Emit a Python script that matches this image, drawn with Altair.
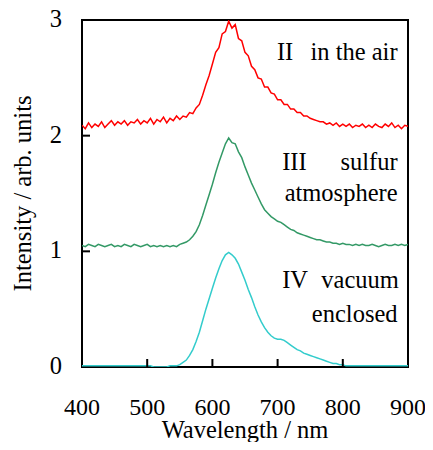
import altair as alt
import pandas as pd

# ---------------- data ----------------
wavelength = list(range(400, 905, 5))

series_II = [
    2.09, 2.06, 2.11, 2.07, 2.10, 2.08, 2.12, 2.07, 2.10, 2.13, 2.09,
    2.12, 2.10, 2.13, 2.09, 2.12, 2.11, 2.14, 2.10, 2.13, 2.11,
    2.15, 2.10, 2.14, 2.12, 2.16, 2.11, 2.15, 2.13, 2.17, 2.14,
    2.17, 2.16, 2.20, 2.19, 2.24, 2.27, 2.35, 2.44, 2.52, 2.62,
    2.72, 2.76, 2.88, 2.90, 2.99, 2.93, 2.96, 2.84, 2.82, 2.72,
    2.69, 2.60, 2.57, 2.50, 2.49, 2.42, 2.42, 2.37, 2.36, 2.31,
    2.31, 2.27, 2.27, 2.23, 2.23, 2.20, 2.20, 2.17, 2.17, 2.15,
    2.14, 2.13, 2.12, 2.12, 2.10, 2.11, 2.09, 2.11, 2.08, 2.10,
    2.08, 2.10, 2.07, 2.09, 2.08, 2.10, 2.07, 2.09, 2.07, 2.10,
    2.08, 2.07, 2.10, 2.08, 2.11, 2.07, 2.09, 2.06, 2.09, 2.08,
]

series_III = [
    1.05, 1.04, 1.06, 1.05, 1.04, 1.06, 1.05, 1.04, 1.05, 1.06, 1.04,
    1.05, 1.04, 1.06, 1.05, 1.04, 1.06, 1.05, 1.04, 1.05, 1.06,
    1.04, 1.05, 1.04, 1.05, 1.04, 1.05, 1.04, 1.05, 1.04, 1.06,
    1.07, 1.08, 1.10, 1.13, 1.17, 1.23, 1.31, 1.40, 1.49, 1.58,
    1.68, 1.77, 1.85, 1.93, 1.98, 1.94, 1.93, 1.86, 1.81, 1.73,
    1.66, 1.59, 1.53, 1.47, 1.41, 1.36, 1.33, 1.30, 1.28, 1.26,
    1.25, 1.23, 1.21, 1.19, 1.18, 1.16, 1.15, 1.14, 1.13, 1.12,
    1.11, 1.10, 1.10, 1.09, 1.08, 1.08, 1.07, 1.07, 1.06, 1.07,
    1.06, 1.06, 1.05, 1.06, 1.05, 1.06, 1.05, 1.05, 1.06, 1.05,
    1.04, 1.05, 1.06, 1.05, 1.05, 1.06, 1.05, 1.06, 1.05, 1.06,
]

series_IV = [
    0.01, 0.01, 0.01, 0.01, 0.01, 0.01, 0.01, 0.01, 0.01, 0.01, 0.01,
    0.01, 0.01, 0.01, 0.01, 0.01, 0.01, 0.01, 0.01, 0.01, 0.01,
    0.01, 0.00, 0.00, 0.00, 0.00, 0.00, 0.01, 0.01, 0.01, 0.02,
    0.04, 0.06, 0.10, 0.15, 0.22, 0.30, 0.40, 0.50, 0.59, 0.68,
    0.77, 0.85, 0.92, 0.97, 0.99, 0.97, 0.94, 0.89, 0.82, 0.75,
    0.67, 0.60, 0.52, 0.45, 0.39, 0.34, 0.30, 0.27, 0.25, 0.24,
    0.24, 0.23, 0.21, 0.19, 0.17, 0.15, 0.14, 0.12, 0.11, 0.10,
    0.09, 0.08, 0.07, 0.06, 0.05, 0.04, 0.03, 0.03, 0.02, 0.02,
    0.01, 0.01, 0.01, 0.01, 0.01, 0.01, 0.01, 0.01, 0.01, 0.01,
    0.01, 0.01, 0.01, 0.01, 0.01, 0.01, 0.01, 0.01, 0.01, 0.01,
]

series_names = ["II", "III", "IV"]
series_colors = ["#ff0000", "#339966", "#33cccc"]

x_tick_values = [400, 500, 600, 700, 800, 900]
y_tick_values = [0, 1, 2, 3]
inner_x_ticks = [500, 600, 700, 800]
inner_y_ticks = [1, 2]

# annotation text
left_labels = ["II", "III", "IV"]
left_x = [699, 707, 707]
left_y = [2.653, 1.703, 0.683]

right_labels = ["in the air", "sulfur", "atmosphere", "vacuum", "enclosed"]
right_x = [884, 884, 884, 886, 884]
right_y = [2.653, 1.703, 1.435, 0.683, 0.392]

FONT = "Liberation Serif"
FS = 24.5
XT = "Wavelength / nm"
YT = "Intensity / arb. units"
W, H = 326, 347

# ---------------- build tables ----------------
rows = []
for name, vals in zip(series_names, [series_II, series_III, series_IV]):
    for w, v in zip(wavelength, vals):
        rows.append({"wavelength": w, "intensity": v, "series": name})
df = pd.DataFrame(rows)

xscale = alt.Scale(domain=[400, 900], nice=False, zero=False)
yscale = alt.Scale(domain=[0, 3], nice=False)

lines = alt.Chart(df).mark_line(strokeWidth=1.5, clip=True).encode(
    x=alt.X("wavelength:Q", scale=xscale, axis=None),
    y=alt.Y("intensity:Q", scale=yscale, axis=None),
    color=alt.Color("series:N", scale=alt.Scale(domain=series_names, range=series_colors),
                    legend=None),
    detail="series:N",
)

# inward tick marks
xt = alt.Chart(pd.DataFrame({"tx": inner_x_ticks})).mark_rule(
    color="black", strokeWidth=2).encode(
    x=alt.X("tx:Q", scale=xscale, axis=None),
    y=alt.value(H), y2=alt.value(H - 8))

yt = alt.Chart(pd.DataFrame({"ty": inner_y_ticks})).mark_rule(
    color="black", strokeWidth=2).encode(
    y=alt.Y("ty:Q", scale=yscale, axis=None),
    x=alt.value(0), x2=alt.value(8))

# tick labels, positioned through the scales
xlab = alt.Chart(pd.DataFrame({"v": x_tick_values,
                               "s": [str(v) for v in x_tick_values]})).mark_text(
    align="center", baseline="alphabetic", font=FONT, fontSize=24, color="black").encode(
    x=alt.X("v:Q", scale=xscale, axis=None),
    y=alt.value(H + 48),
    text="s:N")

ylab = alt.Chart(pd.DataFrame({"v": y_tick_values,
                               "s": [str(v) for v in y_tick_values]})).mark_text(
    align="right", baseline="middle", font=FONT, fontSize=FS, color="black").encode(
    y=alt.Y("v:Q", scale=yscale, axis=None),
    x=alt.value(-20),
    text="s:N")

# axis titles
xtitle = alt.Chart(pd.DataFrame({"s": [XT]})).mark_text(
    align="center", baseline="alphabetic", font=FONT, fontSize=FS, color="black").encode(
    x=alt.value(W / 2), y=alt.value(H + 71), text="s:N")

ytitle = alt.Chart(pd.DataFrame({"s": [YT]})).mark_text(
    align="center", baseline="alphabetic", angle=270, font=FONT, fontSize=FS,
    color="black").encode(
    x=alt.value(-51), y=alt.value(H / 2), text="s:N")

# annotations
ltext = alt.Chart(pd.DataFrame({"x": left_x, "y": left_y, "t": left_labels})).mark_text(
    align="left", baseline="alphabetic", font=FONT, fontSize=FS, color="black").encode(
    x=alt.X("x:Q", scale=xscale, axis=None),
    y=alt.Y("y:Q", scale=yscale, axis=None),
    text="t:N")

rtext = alt.Chart(pd.DataFrame({"x": right_x, "y": right_y, "t": right_labels})).mark_text(
    align="right", baseline="alphabetic", font=FONT, fontSize=FS, color="black").encode(
    x=alt.X("x:Q", scale=xscale, axis=None),
    y=alt.Y("y:Q", scale=yscale, axis=None),
    text="t:N")

chart = alt.layer(lines, xt, yt, xlab, ylab, xtitle, ytitle, ltext, rtext).properties(
    width=W, height=H,
    autosize="none",
    padding={"left": 74, "top": 12, "right": 17, "bottom": 75},
).configure_view(
    stroke="black", strokeWidth=2
)

chart.save("out.html", embed_options={"renderer": "svg", "actions": False})
